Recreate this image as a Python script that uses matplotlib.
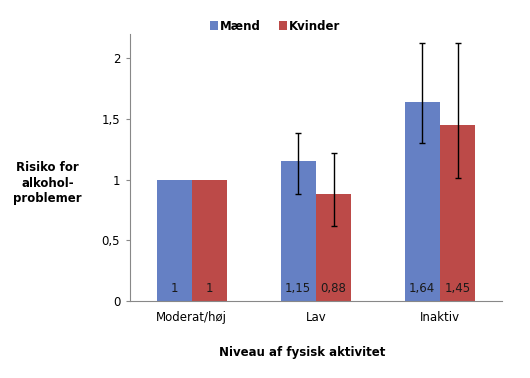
import matplotlib.pyplot as plt
import numpy as np

categories = ["Moderat/høj", "Lav", "Inaktiv"]
series = ["Mænd", "Kvinder"]
maend = [1.00, 1.15, 1.64]
kvinder = [1.00, 0.88, 1.45]
maend_lo = [1.00, 0.88, 1.30]
maend_hi = [1.00, 1.38, 2.13]
kvinder_lo = [1.00, 0.62, 1.01]
kvinder_hi = [1.00, 1.22, 2.13]
yticks = [0, 0.5, 1, 1.5, 2]


def fmt(v):
    return f"{v:g}".replace(".", ",")


def main() -> None:
    fig = plt.figure(figsize=(5.3, 3.78), dpi=100)
    ax = fig.add_axes([0.245, 0.204, 0.702, 0.706])
    x = np.arange(len(categories))
    w = 0.285
    colors = ["#6580c4", "#bc4a48"]
    data = [(maend, maend_lo, maend_hi), (kvinder, kvinder_lo, kvinder_hi)]
    for i, (vals, lo, hi) in enumerate(data):
        xs = x + (i - 0.5) * w
        ax.bar(xs, vals, width=w, color=colors[i], label=series[i])
        v = np.array(vals)
        err = np.array([v - np.array(lo), np.array(hi) - v])
        mask = err.sum(axis=0) > 0
        ax.errorbar(xs[mask], v[mask], yerr=err[:, mask], fmt="none",
                    ecolor="black", elinewidth=1, capsize=2.5, capthick=1)
        for xi, val in zip(xs, vals):
            ax.text(xi, 0.1, fmt(val), ha="center", va="center",
                    fontsize=8.5, color="#1a1a1a")

    ax.set_xlim(-0.5, 2.5)
    ax.set_ylim(0, 2.2)
    ax.set_yticks(yticks)
    ax.set_yticklabels([fmt(t) for t in yticks], fontsize=8.5)
    ax.set_xticks(x)
    ax.set_xticklabels(categories, fontsize=8.5)
    ax.tick_params(axis="x", length=0, pad=7)
    ax.tick_params(axis="y", length=3, color="#888888", pad=4)
    for s in ["top", "right"]:
        ax.spines[s].set_visible(False)
    for s in ["left", "bottom"]:
        ax.spines[s].set_color("#888888")

    fig.text(0.09, 0.515, "Risiko for\nalkohol-\nproblemer", ha="center",
             va="center", fontsize=8.5, fontweight="bold", linespacing=1.25)
    fig.text(0.57, 0.068, "Niveau af fysisk aktivitet", ha="center",
             va="center", fontsize=8.5, fontweight="bold")
    ax.legend(loc="center", bbox_to_anchor=(0.39, 1.03), ncol=2,
              frameon=False, prop={"size": 8.5, "weight": "bold"},
              handlelength=0.7, handleheight=0.7, handletextpad=0.15,
              columnspacing=1.5)
    fig.savefig("out.png", dpi=100)
    plt.close(fig)


if __name__ == "__main__":
    main()
